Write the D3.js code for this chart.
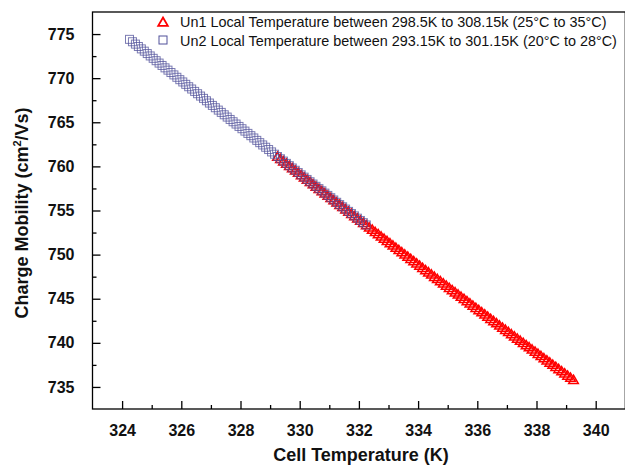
<!DOCTYPE html>
<html><head><meta charset="utf-8">
<script src="https://cdn.jsdelivr.net/npm/d3@7"></script>
<style>
html,body{margin:0;padding:0;background:#fff;}
svg{display:block;font-family:"Liberation Sans",Arial,sans-serif;}
</style></head>
<body><svg id="chart" width="625" height="465"></svg>
<script>
// Un1: cell temperature (K) and charge mobility
const un1Temp = [329.25,329.35,329.45,329.55,329.65,329.75,329.85,329.95,330.05,330.15,
330.25,330.35,330.45,330.55,330.65,330.75,330.85,330.95,331.05,331.15,
331.25,331.35,331.45,331.55,331.65,331.75,331.85,331.95,332.05,332.15,
332.25,332.35,332.45,332.55,332.65,332.75,332.85,332.95,333.05,333.15,
333.25,333.35,333.45,333.55,333.65,333.75,333.85,333.95,334.05,334.15,
334.25,334.35,334.45,334.55,334.65,334.75,334.85,334.95,335.05,335.15,
335.25,335.35,335.45,335.55,335.65,335.75,335.85,335.95,336.05,336.15,
336.25,336.35,336.45,336.55,336.65,336.75,336.85,336.95,337.05,337.15,
337.25,337.35,337.45,337.55,337.65,337.75,337.85,337.95,338.05,338.15,
338.25,338.35,338.45,338.55,338.65,338.75,338.85,338.95,339.05,339.15,339.25];
const un1Mobility = [761.12,760.86,760.60,760.34,760.08,759.82,759.56,759.30,759.04,758.78,
758.52,758.26,758.00,757.74,757.48,757.23,756.97,756.71,756.45,756.19,
755.93,755.67,755.42,755.16,754.90,754.65,754.39,754.13,753.87,753.62,
753.36,753.10,752.85,752.59,752.34,752.08,751.82,751.57,751.31,751.06,
750.80,750.55,750.29,750.04,749.79,749.54,749.28,749.03,748.78,748.52,
748.27,748.02,747.77,747.51,747.26,747.01,746.76,746.51,746.25,746.00,
745.75,745.50,745.25,745.00,744.75,744.50,744.24,743.99,743.74,743.49,
743.24,742.99,742.74,742.49,742.24,741.99,741.75,741.50,741.25,741.00,
740.75,740.50,740.26,740.01,739.76,739.52,739.27,739.02,738.78,738.53,
738.28,738.03,737.79,737.54,737.30,737.05,736.80,736.56,736.31,736.07,735.82];
// Un2
const un2Temp = [324.25,324.35,324.45,324.55,324.65,324.75,324.85,324.95,325.05,325.15,
325.25,325.35,325.45,325.55,325.65,325.75,325.85,325.95,326.05,326.15,
326.25,326.35,326.45,326.55,326.65,326.75,326.85,326.95,327.05,327.15,
327.25,327.35,327.45,327.55,327.65,327.75,327.85,327.95,328.05,328.15,
328.25,328.35,328.45,328.55,328.65,328.75,328.85,328.95,329.05,329.15,
329.25,329.35,329.45,329.55,329.65,329.75,329.85,329.95,330.05,330.15,
330.25,330.35,330.45,330.55,330.65,330.75,330.85,330.95,331.05,331.15,
331.25,331.35,331.45,331.55,331.65,331.75,331.85,331.95,332.05,332.15,332.25];
const un2Mobility = [774.40,774.13,773.86,773.59,773.32,773.06,772.79,772.52,772.25,771.98,
771.71,771.44,771.17,770.91,770.64,770.37,770.10,769.83,769.57,769.30,
769.03,768.77,768.50,768.24,767.97,767.71,767.44,767.18,766.91,766.65,
766.38,766.12,765.85,765.59,765.32,765.06,764.80,764.53,764.27,764.00,
763.74,763.48,763.22,762.95,762.69,762.43,762.17,761.91,761.64,761.38,
761.12,760.86,760.60,760.34,760.08,759.82,759.56,759.30,759.04,758.78,
758.52,758.26,758.00,757.74,757.48,757.23,756.97,756.71,756.45,756.19,
755.93,755.67,755.42,755.16,754.90,754.65,754.39,754.13,753.87,753.62,753.36];

const xTicks = [324,326,328,330,332,334,336,338,340];
const yTicks = [735,740,745,750,755,760,765,770,775];
const legendLabels = ["Un1 Local Temperature between 298.5K to 308.15k (25°C to 35°C)",
                      "Un2 Local Temperature between 293.15K to 301.15K (20°C to 28°C)"];
const xTitle = "Cell Temperature (K)";

const svg = d3.select("#chart");
const L = 92.5, T = 12, B = 409;
const x = d3.scaleLinear().domain([323, 341]).range([L, L + 18 * 29.6]);
const y = d3.scaleLinear().domain([732.5, 777.5]).range([B, T]);

const RED = "#ff0000", BLUE = "#50509a";

// frame
svg.append("rect").attr("x", L).attr("y", T).attr("width", x(341) - L).attr("height", B - T)
  .attr("fill", "none").attr("stroke", "#000").attr("stroke-width", 1.3);

// x axis
const xAxis = d3.axisBottom(x).tickValues(xTicks).tickFormat(d3.format("d")).tickSizeInner(-8).tickSizeOuter(0).tickPadding(16);
const gx = svg.append("g").attr("transform", `translate(0,${B})`).call(xAxis);
const xMinor = d3.axisBottom(x).tickValues(d3.range(325, 341, 2)).tickFormat("").tickSizeInner(-4).tickSizeOuter(0);
const gxm = svg.append("g").attr("transform", `translate(0,${B})`).call(xMinor);
// y axis
const yAxis = d3.axisLeft(y).tickValues(yTicks).tickFormat(d3.format("d")).tickSizeInner(-8).tickSizeOuter(0).tickPadding(18);
const gy = svg.append("g").attr("transform", `translate(${L},0)`).call(yAxis);
const yMinor = d3.axisLeft(y).tickValues(d3.range(737.5, 777.5, 5)).tickFormat("").tickSizeInner(-4).tickSizeOuter(0);
const gym = svg.append("g").attr("transform", `translate(${L},0)`).call(yMinor);
[gx, gxm, gy, gym].forEach(g => {
  g.select(".domain").remove();
  g.selectAll(".tick line").attr("stroke", "#000").attr("stroke-width", 1.3);
  g.selectAll(".tick text").attr("fill", "#111").style("font-size", "16px").style("font-weight", "bold")
    .style("font-family", "'Liberation Sans', Arial, sans-serif");
});

// axis titles
svg.append("text").attr("x", 361).attr("y", 461).attr("text-anchor", "middle")
  .style("font-size", "18px").style("font-weight", "bold").attr("fill", "#111").text(xTitle);
const yt = svg.append("text").attr("transform", "translate(28,213) rotate(-90)").attr("text-anchor", "middle")
  .style("font-size", "18px").style("font-weight", "bold").attr("fill", "#111");
yt.append("tspan").text("Charge Mobility (cm");
yt.append("tspan").attr("dy", -7).style("font-size", "11px").text("2");
yt.append("tspan").attr("dy", 7).text("/Vs)");

const tri = "M0,-4.5L4.8,3.8L-4.8,3.8Z";
// Un1 triangles
svg.append("g").selectAll("path").data(un1Temp.map((t, i) => [t, un1Mobility[i]])).join("path")
  .attr("d", tri).attr("transform", d => `translate(${x(d[0])},${y(d[1])})`)
  .attr("fill", "none").attr("stroke", RED).attr("stroke-width", 1.5);
// Un2 squares
svg.append("g").selectAll("rect").data(un2Temp.map((t, i) => [t, un2Mobility[i]])).join("rect")
  .attr("x", d => x(d[0]) - 4).attr("y", d => y(d[1]) - 4).attr("width", 8).attr("height", 8)
  .attr("fill", "none").attr("stroke", BLUE).attr("stroke-width", 1).attr("stroke-opacity", 0.75);

// legend
const lg = svg.append("g");
lg.append("path").attr("d", tri).attr("transform", "translate(163,22)").attr("fill", "none").attr("stroke", RED).attr("stroke-width", 1.8);
lg.append("rect").attr("x", 159).attr("y", 36).attr("width", 8).attr("height", 8).attr("fill", "none").attr("stroke", BLUE).attr("stroke-width", 1);
legendLabels.forEach((s, i) => {
  lg.append("text").attr("x", 180).attr("y", 27 + i * 19).style("font-size", "14.4px").attr("fill", "#111").text(s);
});
</script></body></html>
